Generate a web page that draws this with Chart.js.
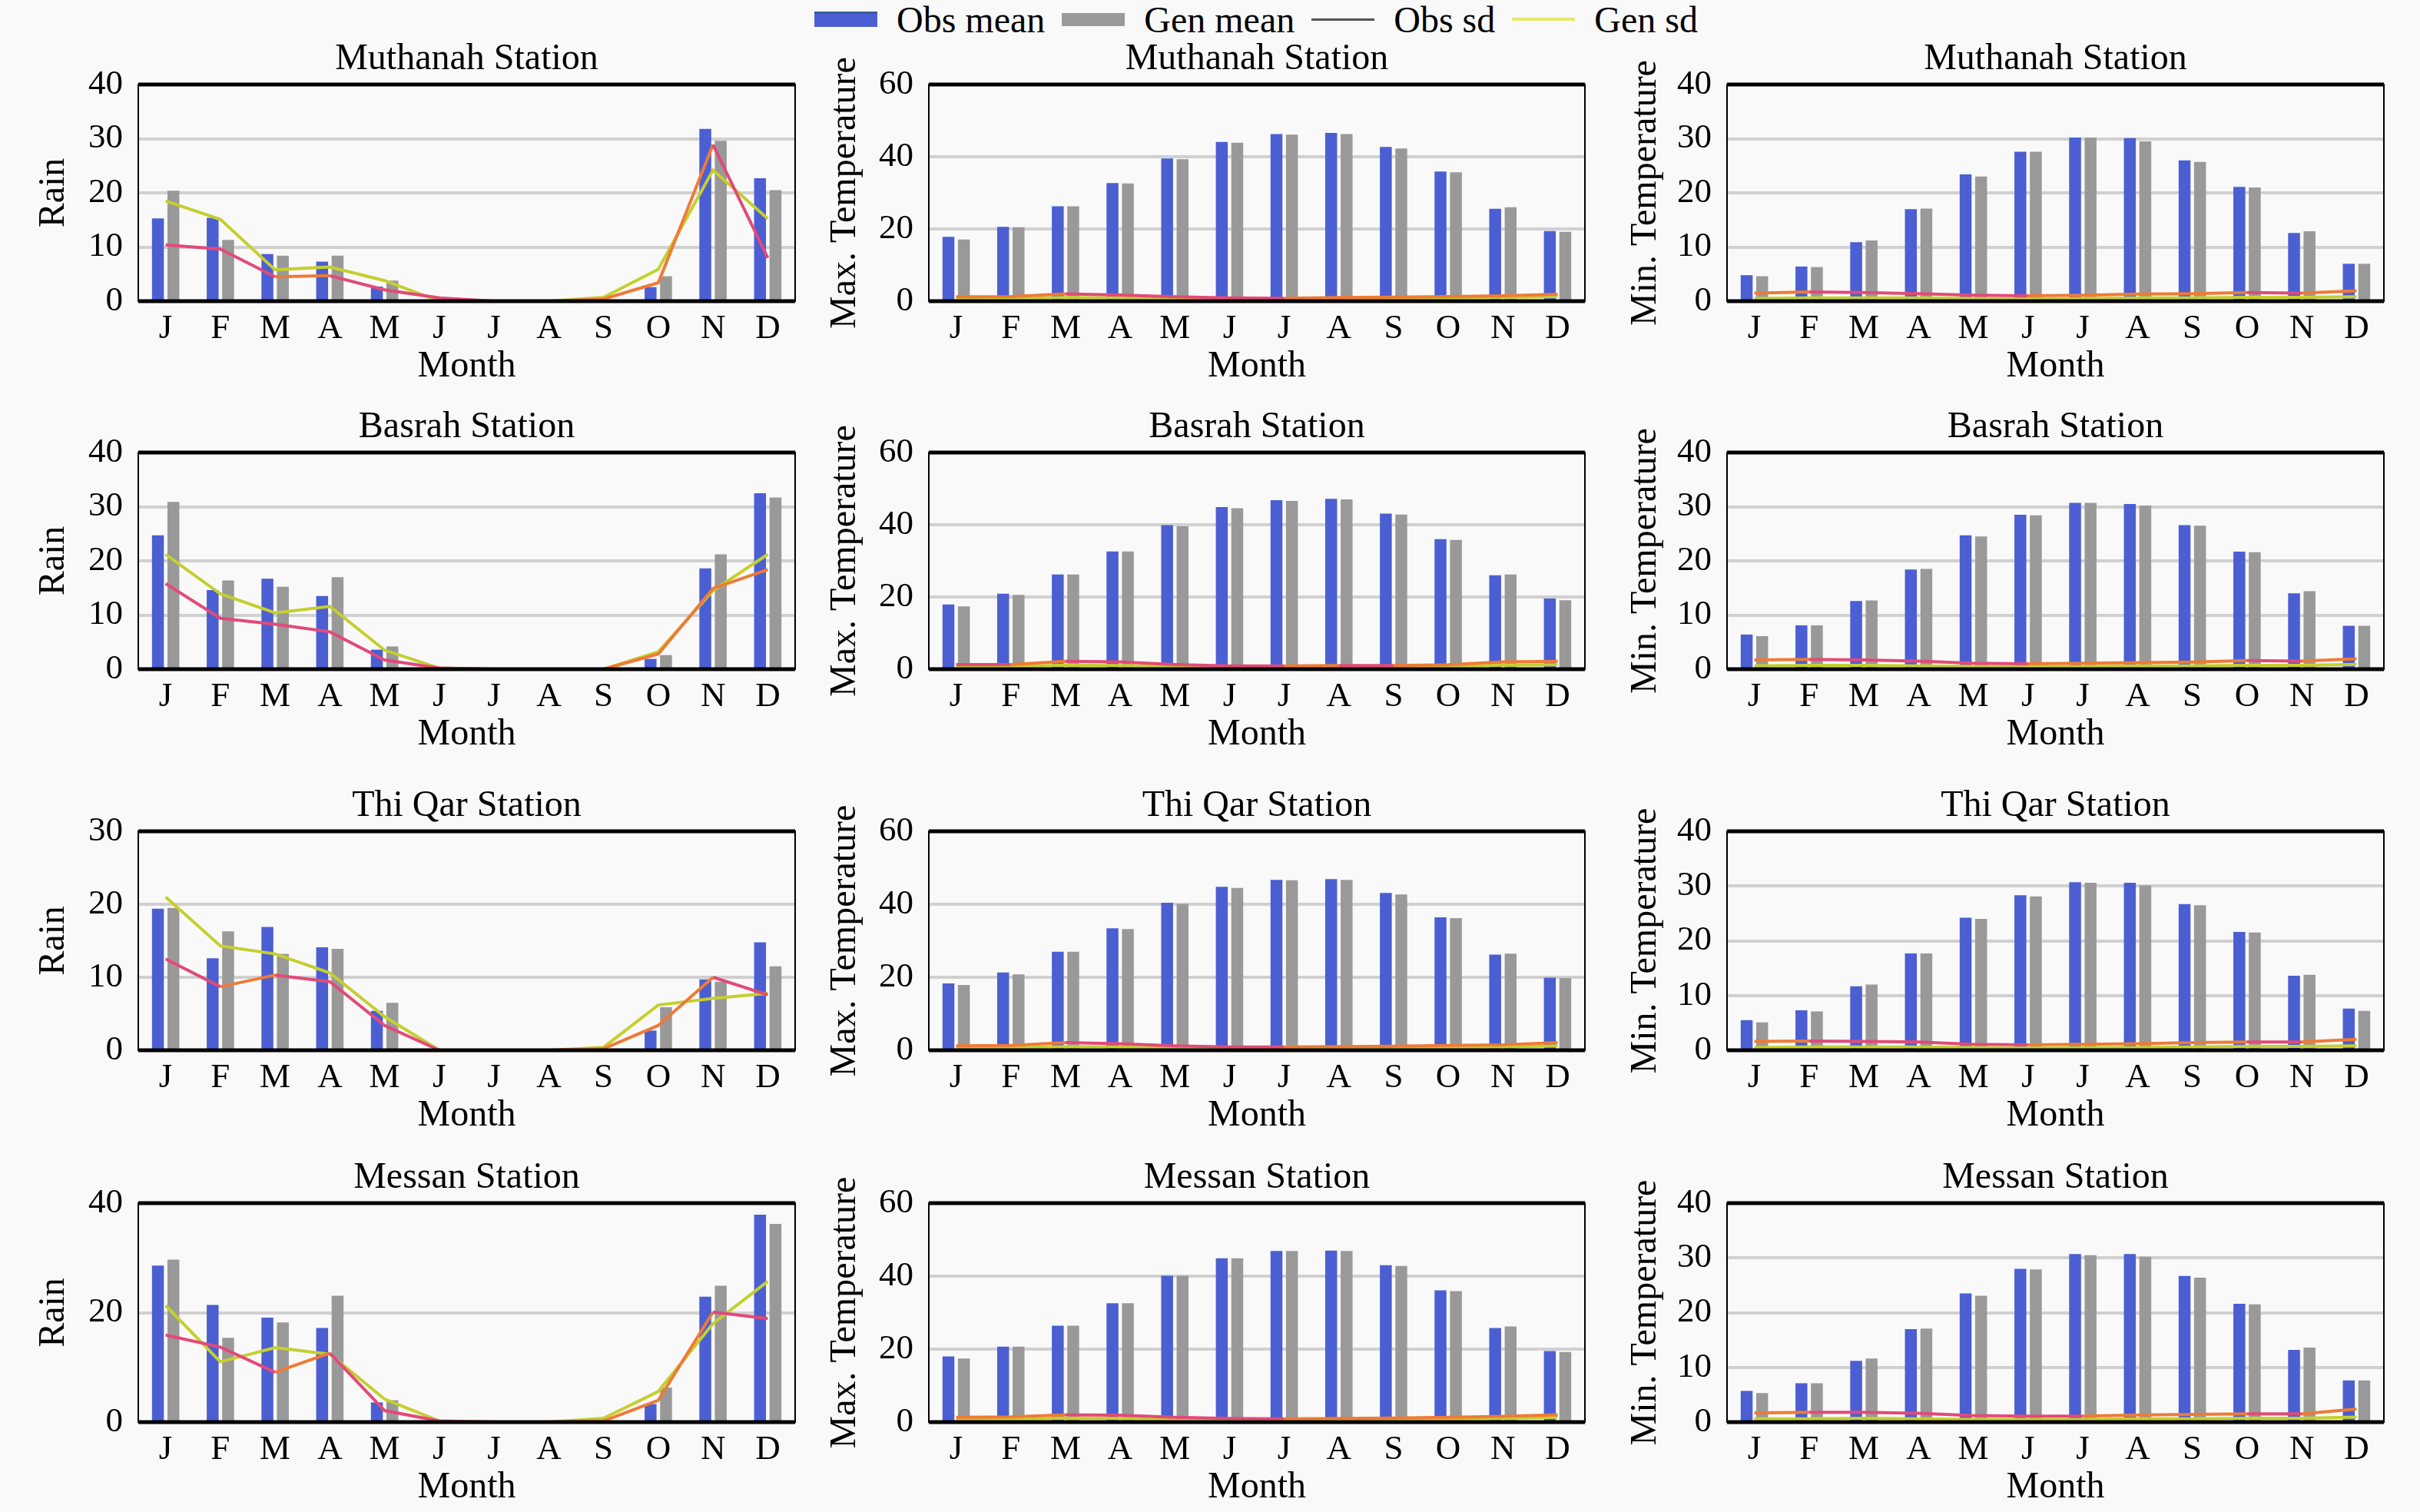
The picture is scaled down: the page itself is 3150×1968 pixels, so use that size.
<!DOCTYPE html>
<html>
<head>
<meta charset="utf-8">
<script src="https://cdn.jsdelivr.net/npm/chart.js@4.4.1/dist/chart.umd.min.js"></script>
<style>
  body { margin: 0; background: #f9f9f9; width: 3150px; height: 1968px; overflow: hidden; position: relative; font-family: "Liberation Serif", serif; }
  canvas { position: absolute; }
  #legend { position: absolute; left: 1060px; top: 0; height: 50px; display: flex; align-items: center; font-size: 48px; color: #000; white-space: nowrap; }
  .item { display: flex; align-items: center; margin-right: 22px; }
  .swatch { width: 82px; margin-right: 25px; }
</style>
</head>
<body>
<div id="legend">
  <div class="item"><div class="swatch" style="height:17px;background:#4b5fd3;border-top:3px solid #3a5aa0"></div>Obs mean</div>
  <div class="item"><div class="swatch" style="height:17px;background:#999999"></div>Gen mean</div>
  <div class="item"><div class="swatch" style="height:3px;background:#555555"></div>Obs sd</div>
  <div class="item"><div class="swatch" style="height:4px;background:#e6e86a"></div>Gen sd</div>
</div>
<script>
const months = ["J", "F", "M", "A", "M", "J", "J", "A", "S", "O", "N", "D"];

// Rain
const muthanahRainObs = [15.3, 15.4, 8.7, 7.3, 2.7, 0, 0, 0, 0.1, 2.6, 31.8, 22.7];
const muthanahRainGen = [20.4, 11.3, 8.4, 8.4, 3.8, 0.1, 0, 0, 0.3, 4.6, 29.6, 20.5];
const muthanahRainObsSd = [10.4, 9.6, 4.5, 4.7, 2.1, 0.6, 0, 0, 0.4, 3.4, 28.9, 8.0];
const muthanahRainGenSd = [18.5, 15.1, 5.8, 6.3, 3.8, 0, 0, 0, 0.7, 5.9, 24.2, 15.2];

const basrahRainObs = [24.7, 14.6, 16.7, 13.5, 3.6, 0, 0, 0, 0, 1.9, 18.6, 32.5];
const basrahRainGen = [30.9, 16.4, 15.2, 17.0, 4.2, 0.2, 0, 0, 0, 2.6, 21.2, 31.7];
const basrahRainObsSd = [15.8, 9.4, 8.3, 6.9, 1.7, 0.2, 0, 0, 0, 2.8, 14.9, 18.4];
const basrahRainGenSd = [21.2, 13.9, 10.4, 11.6, 3.5, 0.2, 0, 0, 0, 3.2, 14.5, 21.2];

const thiqarRainObs = [19.4, 12.6, 16.9, 14.1, 5.4, 0, 0, 0, 0, 2.7, 9.7, 14.8];
const thiqarRainGen = [19.5, 16.3, 13.2, 13.9, 6.5, 0, 0, 0, 0.2, 5.9, 9.4, 11.5];
const thiqarRainObsSd = [12.5, 8.7, 10.3, 9.4, 3.4, 0, 0, 0, 0.2, 3.4, 10.0, 7.6];
const thiqarRainGenSd = [21.0, 14.3, 13.2, 10.6, 4.6, 0, 0, 0, 0.4, 6.2, 7.1, 7.8];

const messanRainObs = [28.6, 21.4, 19.1, 17.2, 3.6, 0, 0, 0, 0, 3.3, 22.9, 37.9];
const messanRainGen = [29.7, 15.4, 18.2, 23.1, 4.0, 0, 0, 0, 0.2, 6.3, 24.9, 36.2];
const messanRainObsSd = [15.9, 13.7, 9.1, 12.6, 2.1, 0.2, 0, 0, 0.2, 4.0, 20.1, 18.9];
const messanRainGenSd = [21.3, 11.0, 13.6, 12.4, 4.2, 0.2, 0, 0, 0.7, 5.6, 18.0, 25.7];

// Max. temperature
const muthanahTmaxObs = [17.8, 20.6, 26.3, 32.7, 39.5, 44.1, 46.3, 46.6, 42.7, 35.9, 25.6, 19.4];
const muthanahTmaxGen = [17.1, 20.5, 26.3, 32.6, 39.3, 43.9, 46.1, 46.3, 42.3, 35.7, 26.0, 19.2];
const muthanahTmaxObsSd = [1.2, 1.3, 2.0, 1.7, 1.2, 0.9, 0.8, 1.0, 1.1, 1.3, 1.5, 1.9];
const muthanahTmaxGenSd = [0.6, 0.7, 1.0, 0.9, 0.6, 0.5, 0.6, 0.6, 0.7, 0.8, 1.0, 1.3];

const basrahTmaxObs = [17.9, 20.9, 26.2, 32.6, 39.9, 44.9, 46.8, 47.2, 43.1, 36.0, 26.0, 19.6];
const basrahTmaxGen = [17.4, 20.6, 26.2, 32.6, 39.6, 44.6, 46.6, 47.0, 42.8, 35.8, 26.2, 19.1];
const basrahTmaxObsSd = [1.3, 1.3, 2.2, 2.0, 1.3, 0.9, 0.9, 1.0, 1.0, 1.2, 2.0, 2.2];
const basrahTmaxGenSd = [0.7, 0.7, 1.1, 1.0, 0.7, 0.5, 0.6, 0.7, 0.7, 0.8, 1.1, 1.2];

const thiqarTmaxObs = [18.3, 21.3, 27.0, 33.4, 40.4, 44.8, 46.7, 46.9, 43.1, 36.4, 26.2, 19.9];
const thiqarTmaxGen = [17.9, 20.8, 27.0, 33.2, 40.1, 44.5, 46.6, 46.7, 42.7, 36.2, 26.5, 19.8];
const thiqarTmaxObsSd = [1.2, 1.3, 2.1, 1.8, 1.2, 0.9, 0.9, 1.0, 1.1, 1.3, 1.5, 2.1];
const thiqarTmaxGenSd = [0.6, 0.7, 1.0, 0.9, 0.6, 0.5, 0.6, 0.6, 0.7, 0.8, 0.9, 1.2];

const messanTmaxObs = [18.0, 20.7, 26.4, 32.6, 40.1, 44.9, 46.9, 47.0, 43.0, 36.1, 25.8, 19.5];
const messanTmaxGen = [17.4, 20.7, 26.4, 32.6, 40.1, 44.9, 46.9, 46.9, 42.8, 35.9, 26.2, 19.2];
const messanTmaxObsSd = [1.3, 1.4, 2.0, 1.9, 1.3, 1.0, 0.9, 1.0, 1.1, 1.3, 1.6, 2.0];
const messanTmaxGenSd = [0.7, 0.7, 1.1, 1.0, 0.7, 0.6, 0.6, 0.7, 0.7, 0.8, 1.0, 1.3];

// Min. temperature
const muthanahTminObs = [4.8, 6.4, 10.9, 17.0, 23.4, 27.6, 30.2, 30.1, 26.0, 21.1, 12.6, 6.9];
const muthanahTminGen = [4.6, 6.3, 11.2, 17.1, 23.0, 27.6, 30.2, 29.5, 25.7, 21.0, 12.9, 6.9];
const muthanahTminObsSd = [1.5, 1.7, 1.6, 1.4, 1.1, 1.0, 1.1, 1.3, 1.4, 1.6, 1.5, 1.9];
const muthanahTminGenSd = [0.5, 0.6, 0.6, 0.6, 0.5, 0.4, 0.5, 0.6, 0.6, 0.7, 0.7, 0.8];

const basrahTminObs = [6.4, 8.1, 12.6, 18.4, 24.7, 28.5, 30.7, 30.5, 26.6, 21.7, 14.0, 8.0];
const basrahTminGen = [6.1, 8.1, 12.7, 18.5, 24.5, 28.4, 30.7, 30.2, 26.5, 21.6, 14.4, 8.0];
const basrahTminObsSd = [1.7, 1.8, 1.7, 1.5, 1.1, 1.0, 1.1, 1.2, 1.3, 1.6, 1.5, 1.9];
const basrahTminGenSd = [0.6, 0.7, 0.7, 0.6, 0.5, 0.5, 0.5, 0.6, 0.6, 0.7, 0.7, 0.9];

const thiqarTminObs = [5.5, 7.3, 11.7, 17.7, 24.2, 28.3, 30.7, 30.6, 26.7, 21.6, 13.6, 7.6];
const thiqarTminGen = [5.1, 7.1, 12.0, 17.7, 24.0, 28.1, 30.6, 30.1, 26.5, 21.5, 13.8, 7.2];
const thiqarTminObsSd = [1.6, 1.7, 1.6, 1.5, 1.1, 1.0, 1.1, 1.2, 1.4, 1.5, 1.5, 2.0];
const thiqarTminGenSd = [0.5, 0.6, 0.6, 0.6, 0.5, 0.4, 0.5, 0.5, 0.6, 0.7, 0.7, 0.8];

const messanTminObs = [5.7, 7.1, 11.2, 17.0, 23.5, 28.0, 30.7, 30.7, 26.7, 21.6, 13.2, 7.6];
const messanTminGen = [5.3, 7.1, 11.6, 17.1, 23.1, 27.9, 30.5, 30.2, 26.4, 21.5, 13.6, 7.6];
const messanTminObsSd = [1.7, 1.8, 1.8, 1.6, 1.2, 1.1, 1.1, 1.3, 1.4, 1.5, 1.5, 2.4];
const messanTminGenSd = [0.6, 0.6, 0.7, 0.6, 0.5, 0.5, 0.5, 0.6, 0.6, 0.7, 0.7, 0.9];

const stations = ["Muthanah Station", "Basrah Station", "Thi Qar Station", "Messan Station"];
const yTitles = ["Rain", "Max. Temperature", "Min. Temperature"];

// layout (pixels)
const canvasLeft = [42, 1072, 2114];
const plotLeft = [180, 1209, 2248];
const plotRight = [1035, 2063, 3103];
const plotTop = [110, 589, 1082, 1566];
const plotBottom = [392, 871, 1367, 1851];

const FONT = "Liberation Serif";

// black frame around the plot area
const framePlugin = {
  id: "frame",
  afterDatasetsDraw(chart) {
    const { ctx, chartArea: a } = chart;
    ctx.save();
    ctx.strokeStyle = "#000";
    ctx.lineWidth = 2;
    ctx.strokeRect(a.left, a.top, a.right - a.left, a.bottom - a.top);
    ctx.lineWidth = 5;
    ctx.beginPath();
    ctx.moveTo(a.left, a.top);
    ctx.lineTo(a.right, a.top);
    ctx.moveTo(a.left, a.bottom);
    ctx.lineTo(a.right, a.bottom);
    ctx.stroke();
    ctx.restore();
  },
};

// panel title centred on the plot area, and y title drawn by hand so long titles are not squeezed
const textPlugin = {
  id: "panelText",
  afterDraw(chart, args, opts) {
    const { ctx, chartArea: a } = chart;
    const y = chart.scales.y;
    ctx.save();
    ctx.fillStyle = "#000";
    ctx.textAlign = "center";
    ctx.textBaseline = "middle";
    ctx.font = "48px " + FONT;
    ctx.fillText(opts.title, (a.left + a.right) / 2, a.top - 33);
    ctx.translate(y.left + 28.8, (a.top + a.bottom) / 2);
    ctx.rotate(-Math.PI / 2);
    ctx.fillText(opts.yTitle, 0, 0);
    ctx.restore();
  },
};

function makePanel(col, row, yMax, yStep, obs, gen, obsSd, genSd) {
  const canvas = document.createElement("canvas");
  const top = plotTop[row] - 62;
  const width = plotRight[col] + 10 - canvasLeft[col];
  const height = plotBottom[row] - top + 114 + 2;
  canvas.width = width;
  canvas.height = height;
  canvas.style.left = canvasLeft[col] + "px";
  canvas.style.top = top + "px";
  document.body.appendChild(canvas);
  const yWidth = plotLeft[col] - canvasLeft[col];

  new Chart(canvas.getContext("2d"), {
    data: {
      labels: months,
      datasets: [
        { type: "bar", label: "Obs mean", data: obs, backgroundColor: "#4b5fd3", borderWidth: 0, categoryPercentage: 0.565, barPercentage: 0.77, order: 1 },
        { type: "bar", label: "Gen mean", data: gen, backgroundColor: "#999999", borderWidth: 0, categoryPercentage: 0.565, barPercentage: 0.77, order: 1 },
        {
          type: "line", label: "Obs sd", data: obsSd, borderColor: "#e24a78", borderWidth: 4, pointRadius: 0, tension: 0, order: 0,
          segment: { borderColor: (c) => (c.p1.parsed.y > c.p0.parsed.y ? "#ef7a36" : "#e24a78") },
        },
        { type: "line", label: "Gen sd", data: genSd, borderColor: "#c5cf2e", borderWidth: 4, pointRadius: 0, tension: 0, order: 0 },
      ],
    },
    options: {
      responsive: false,
      animation: false,
      devicePixelRatio: 1,
      layout: { padding: { top: 62, right: 10, bottom: 2, left: 0 } },
      plugins: {
        legend: { display: false },
        tooltip: { enabled: false },
        title: { display: false },
        panelText: { title: stations[row], yTitle: yTitles[col] },
      },
      scales: {
        x: {
          offset: true,
          grid: { display: false, drawTicks: false },
          border: { display: false },
          ticks: { color: "#000", font: { family: FONT, size: 45 }, padding: 9, maxRotation: 0, autoSkip: false },
          title: { display: true, text: "Month", color: "#000", font: { family: FONT, size: 48 }, padding: { top: 0, bottom: 0 } },
          afterFit(s) { s.height = 114; },
        },
        y: {
          min: 0,
          max: yMax,
          ticks: { stepSize: yStep, color: "#000", font: { family: FONT, size: 45 }, padding: 20 },
          grid: { color: "#d0d0d0", lineWidth: 4, drawTicks: false },
          border: { display: false },
          afterFit(s) { s.width = yWidth; },
        },
      },
    },
    plugins: [framePlugin, textPlugin],
  });
}

// Muthanah
makePanel(0, 0, 40, 10, muthanahRainObs, muthanahRainGen, muthanahRainObsSd, muthanahRainGenSd);
makePanel(1, 0, 60, 20, muthanahTmaxObs, muthanahTmaxGen, muthanahTmaxObsSd, muthanahTmaxGenSd);
makePanel(2, 0, 40, 10, muthanahTminObs, muthanahTminGen, muthanahTminObsSd, muthanahTminGenSd);
// Basrah
makePanel(0, 1, 40, 10, basrahRainObs, basrahRainGen, basrahRainObsSd, basrahRainGenSd);
makePanel(1, 1, 60, 20, basrahTmaxObs, basrahTmaxGen, basrahTmaxObsSd, basrahTmaxGenSd);
makePanel(2, 1, 40, 10, basrahTminObs, basrahTminGen, basrahTminObsSd, basrahTminGenSd);
// Thi Qar
makePanel(0, 2, 30, 10, thiqarRainObs, thiqarRainGen, thiqarRainObsSd, thiqarRainGenSd);
makePanel(1, 2, 60, 20, thiqarTmaxObs, thiqarTmaxGen, thiqarTmaxObsSd, thiqarTmaxGenSd);
makePanel(2, 2, 40, 10, thiqarTminObs, thiqarTminGen, thiqarTminObsSd, thiqarTminGenSd);
// Messan
makePanel(0, 3, 40, 20, messanRainObs, messanRainGen, messanRainObsSd, messanRainGenSd);
makePanel(1, 3, 60, 20, messanTmaxObs, messanTmaxGen, messanTmaxObsSd, messanTmaxGenSd);
makePanel(2, 3, 40, 10, messanTminObs, messanTminGen, messanTminObsSd, messanTminGenSd);
</script>
</body>
</html>
